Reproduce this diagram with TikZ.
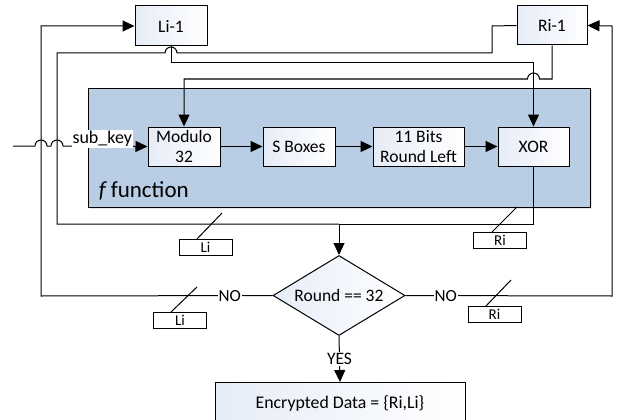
\documentclass[tikz,border=0pt]{standalone}
\usepackage{fontspec}
\setmainfont{Carlito}
\usetikzlibrary{arrows.meta,shapes.geometric,shadows}
\definecolor{fblue}{RGB}{185,205,229}
\definecolor{boxgrad}{RGB}{230,236,247}
\begin{document}
\begin{tikzpicture}[x=1pt,y=-1pt,
  line width=1pt,
  >={Triangle[length=12pt,width=11pt]},
  blk/.style={draw, line width=1pt, left color=boxgrad, right color=white, inner sep=0pt, align=center, font=\fontsize{17.5}{20.5}\selectfont},
  tag/.style={draw, line width=1pt, fill=white, inner sep=0pt, minimum width=53pt, minimum height=16pt, font=\fontsize{15}{15}\selectfont},
  lbl/.style={fill=white, inner sep=1pt, font=\fontsize{17}{17}\selectfont},
  slash/.style={line width=1pt}
]
\useasboundingbox (0,0) rectangle (621,420);
\begin{scope}
\clip (0,0) rectangle (621,420);
% f function box
\node[draw, fill=fblue, minimum width=502pt, minimum height=119pt, inner sep=0pt,
  drop shadow={opacity=0.2, shadow xshift=2pt, shadow yshift=-2pt}] (fbox) at (339,147.5) {};
\node[anchor=west, font=\fontsize{23}{23}\selectfont] (flabel) at (95,191) {\textit{f}\,function};
% blocks
\node[blk, minimum width=72pt, minimum height=40pt] (li1) at (171,26) {Li-1};
\node[blk, minimum width=70pt, minimum height=39pt] (ri1) at (552,25.5) {Ri-1};
\node[blk, minimum width=72pt, minimum height=39pt] (mod) at (184,146.5) {Modulo\\32};
\node[blk, minimum width=72pt, minimum height=39pt] (sbox) at (299,146.5) {S Boxes};
\node[blk, minimum width=91pt, minimum height=39pt] (bits) at (418.5,146.5) {11 Bits\\Round Left};
\node[blk, minimum width=71pt, minimum height=39pt] (xor) at (533.5,146.5) {XOR};
\node[diamond, aspect=1.65, draw, left color=boxgrad, right color=white, minimum width=132pt, minimum height=80pt, inner sep=0pt,
  font=\fontsize{17.5}{17.5}\selectfont] (dia) at (339,295.5) {Round == 32};
\node[blk, minimum width=250pt, minimum height=46pt, font=\fontsize{17.8}{18}\selectfont, anchor=north] (enc) at (340,382) {\raisebox{6pt}{Encrypted Data = \{Ri,Li\}}};
% coordinates
\coordinate (jn) at (339,224);
% block chain
\draw[->] (mod) -- (sbox);
\draw[->] (sbox) -- (bits);
\draw[->] (bits) -- (xor);
% Ri-1 left -> new Li
\draw (ri1.west) -- (492,26) -- (492,53) -- (177,53) arc (0:-180:6) -- (57,53) -- (57,224) -- (jn);
% XOR out -> new Ri
\draw (xor.south) -- (533.5,224) -- (jn);
\draw[->] (jn) -- (dia.north);
% Li-1 -> XOR
\draw[->] (li1.south) -- (171,63) -- (533.5,63) -- (xor.north);
% Ri-1 -> Modulo
\draw[->] (ri1.south) -- (552,79) -- (539.5,79) arc (0:-180:6) -- (184,79) -- (mod.north);
% sub_key
\coordinate (sk) at (13,146);
\draw[->] (sk) -- (35,146) arc (180:360:6) -- (51,146) arc (180:360:6) -- (mod.west);
\node[fill=white, inner sep=1pt, anchor=south west, font=\fontsize{18}{18}\selectfont] (sklabel) at (71,148) {sub\_key};
% feedback NO left
\draw[->] (dia.west) -- node[lbl, pos=0.185] (noL) {NO} (41,296) -- (41,26) -- (li1.west);
\draw[->] (dia.east) -- node[lbl, pos=0.195] (noR) {NO} (612,296) -- (612,26) -- (ri1.east);
% YES
\draw[->] (dia.south) -- node[lbl, pos=0.5, font=\fontsize{17.5}{17.5}\selectfont] (yes) {YES} (enc.north);
% tags
\node[tag] (tLi1) at (205.5,247) {Li};
\node[tag] (tRi1) at (500,240.5) {Ri};
\node[tag] (tLi2) at (180,320) {Li};
\node[tag] (tRi2) at (494.5,314) {Ri};
\coordinate (s1) at (222,213);
\coordinate (s1e) at (197,239);
\coordinate (s2) at (517,207);
\coordinate (s2e) at (492,232);
\coordinate (s3) at (197,287);
\coordinate (s3e) at (171,312);
\coordinate (s4) at (511,280);
\coordinate (s4e) at (486,306);
\draw[slash] (s1) -- (s1e);
\draw[slash] (s2) -- (s2e);
\draw[slash] (s3) -- (s3e);
\draw[slash] (s4) -- (s4e);
\end{scope}
\end{tikzpicture}
\end{document}
